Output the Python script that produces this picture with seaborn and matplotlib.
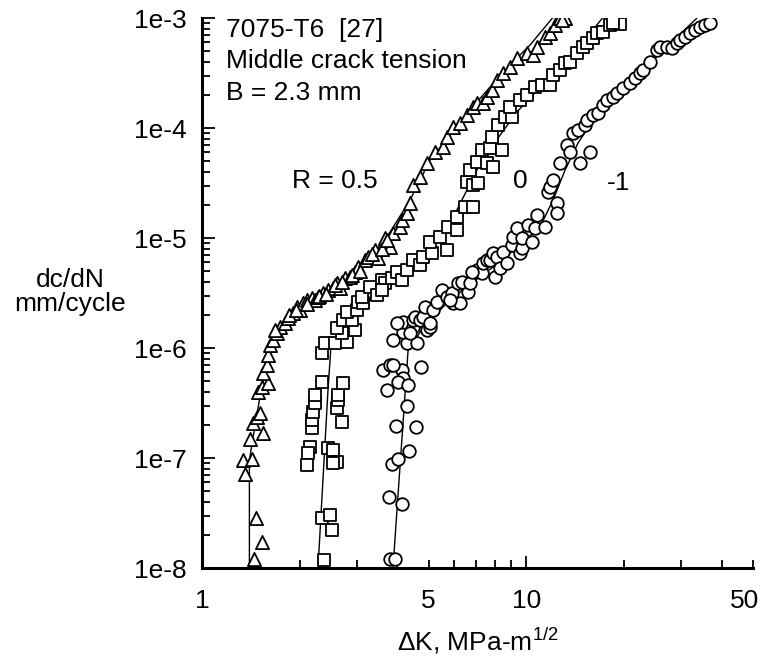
import numpy as np
import pandas as pd
import matplotlib
matplotlib.use("Agg")
import matplotlib.pyplot as plt
import matplotlib.ticker as mticker
import matplotlib.transforms as mtransforms
import seaborn as sns

# ---------------- data ----------------
# R = 0.5 (triangles)
dk_r05 = [1.447, 1.531, 1.467, 1.357, 1.338, 1.426, 1.406, 1.542, 1.436, 1.478,
          1.51, 1.488, 1.531, 1.598, 1.542, 1.586, 1.598, 1.62, 1.655, 1.703,
          1.74, 1.803, 1.842, 1.908, 1.963, 2.005, 2.048, 2.108, 2.184, 2.23,
          2.279, 2.361, 2.446, 2.535, 2.608, 2.66, 2.76, 2.86, 2.964, 3.027,
          3.18, 3.25, 3.416, 3.49, 3.667, 3.80, 3.88, 4.08, 4.14, 4.29,
          4.38, 4.47, 4.70, 4.94, 5.23, 5.53, 5.69, 5.94, 6.25, 6.56,
          6.85, 7.05, 7.35, 7.56, 7.84, 8.12, 8.48, 8.91, 9.36, 10.05,
          10.49, 10.79, 11.42, 11.83, 12.26, 12.70, 13.17, 12.89,
          1.68, 1.85, 1.95, 2.10, 2.30, 2.42, 2.58, 2.70, 2.90, 3.08,
          3.35, 3.58, 3.72]
rate_r05 = [1.21e-8, 1.72e-8, 2.85e-8, 7.16e-8, 9.6e-8, 9.8e-8, 1.49e-7, 1.69e-7, 2.08e-7, 2.36e-7,
            2.56e-7, 3.98e-7, 4.42e-7, 4.8e-7, 5.93e-7, 7.0e-7, 8.6e-7, 1.06e-6, 1.18e-6, 1.37e-6,
            1.55e-6, 1.69e-6, 1.87e-6, 2.08e-6, 2.36e-6, 2.22e-6, 2.56e-6, 2.73e-6, 2.85e-6, 2.73e-6,
            2.91e-6, 3.16e-6, 3.37e-6, 3.51e-6, 3.9e-6, 3.51e-6, 4.33e-6, 4.42e-6, 4.91e-6, 5.45e-6,
            6.31e-6, 6.72e-6, 7.78e-6, 6.58e-6, 1.0e-5, 8.28e-6, 1.11e-5, 1.26e-5, 1.46e-5, 1.69e-5,
            2.08e-5, 3.03e-5, 3.59e-5, 4.81e-5, 6.05e-5, 6.72e-5, 8.28e-5, 1.02e-4, 1.11e-4, 1.31e-4,
            1.55e-4, 1.69e-4, 1.69e-4, 1.91e-4, 2.22e-4, 2.73e-4, 3.16e-4, 3.59e-4, 4.33e-4, 4.8e-4,
            4.61e-4, 5.45e-4, 6.72e-4, 7.3e-4, 8.63e-4, 1.0e-3, 1.0e-3, 9.6e-4,
            1.45e-6, 2.0e-6, 2.2e-6, 2.5e-6, 3.0e-6, 3.1e-6, 3.7e-6, 4.0e-6, 4.6e-6, 5.0e-6,
            7.2e-6, 8.0e-6, 9.5e-6]

# R = 0 (squares)
dk_r0 = [2.378, 2.344, 2.48, 2.517, 2.15, 2.123, 2.108, 2.446, 2.535, 2.608,
         2.535, 2.184, 2.184, 2.70, 2.199, 2.608, 2.23, 2.627, 2.23, 2.627,
         2.344, 2.722,
         2.344, 2.395, 2.571, 2.80, 2.70, 2.608, 2.964, 2.722, 2.90, 2.80,
         3.006, 3.027, 3.136, 3.115, 3.30, 3.465, 3.59, 3.667, 3.59, 3.854,
         3.995, 4.14, 4.29, 4.47, 4.70, 4.80, 5.12, 5.05, 5.42, 5.69,
         5.74, 6.11, 6.11, 6.47, 6.85,
         6.56, 6.85, 7.10, 6.71, 7.05, 7.56, 7.30, 7.90, 7.73, 8.41,
         7.84, 8.18, 8.60, 9.03, 8.91, 9.56, 10.05, 10.64, 11.18, 11.83,
         12.09, 12.70, 13.17, 13.64, 14.33, 14.96, 15.39, 16.06, 16.52, 17.24,
         18.1, 19.45, 18.51]
rate_r0 = [1.18e-8, 2.85e-8, 3.03e-8, 2.21e-8, 1.26e-7, 1.11e-7, 8.63e-8, 1.23e-7, 1.18e-7, 9.2e-8,
           9.0e-8, 1.87e-7, 2.21e-7, 2.12e-7, 2.62e-7, 2.85e-7, 3.16e-7, 3.37e-7, 3.74e-7, 3.74e-7,
           4.91e-7, 4.8e-7,
           9.0e-7, 1.11e-6, 1.11e-6, 1.13e-6, 1.37e-6, 1.52e-6, 1.46e-6, 1.80e-6, 1.80e-6, 2.12e-6,
           2.22e-6, 2.62e-6, 2.56e-6, 2.91e-6, 3.59e-6, 3.03e-6, 4.15e-6, 3.9e-6, 3.37e-6, 4.33e-6,
           4.91e-6, 4.15e-6, 5.12e-6, 6.31e-6, 5.69e-6, 6.72e-6, 7.3e-6, 9.2e-6, 1.02e-5, 7.78e-6,
           1.26e-5, 1.18e-5, 1.55e-5, 1.91e-5, 1.91e-5,
           3.23e-5, 3.03e-5, 3.16e-5, 4.15e-5, 4.91e-5, 4.81e-5, 6.31e-5, 4.42e-5, 6.58e-5, 6.31e-5,
           8.28e-5, 1.06e-4, 1.26e-4, 1.26e-4, 1.55e-4, 1.80e-4, 2.0e-4, 2.36e-4, 2.46e-4, 2.46e-4,
           3.03e-4, 3.37e-4, 3.9e-4, 3.98e-4, 4.8e-4, 5.45e-4, 5.93e-4, 6.58e-4, 7.3e-4, 7.46e-4,
           8.63e-4, 8.82e-4, 9.0e-4]

# R = -1 (circles)
dk_rm1 = [3.80, 3.94, 3.77, 4.14, 3.854, 4.02, 4.35, 3.965, 4.57, 4.29,
          3.615, 3.80, 4.14, 4.17, 4.02, 4.32, 3.72, 4.74, 3.88,
          3.88, 4.29, 4.60, 4.17, 4.17, 3.995, 4.47, 4.47, 4.38, 4.54,
          4.70, 4.80, 4.94, 5.05, 5.05, 4.87, 5.16, 5.31, 5.50, 5.69,
          5.90, 5.94, 6.25, 6.16, 6.56, 6.61, 6.85, 7.05, 7.30, 7.35,
          7.56, 7.73, 7.90, 8.01, 8.12, 5.82, 6.34, 6.71, 6.80, 8.30,
          8.48, 8.72, 9.03, 9.10, 9.36, 9.56, 9.70, 9.70, 10.12, 10.41,
          10.64, 10.79, 11.42, 12.43, 12.43,
          11.67, 11.83, 12.09, 12.70, 13.35, 13.64, 14.64, 15.72, 13.93, 14.43,
          15.17, 15.39, 16.06, 16.64, 17.24, 17.74, 18.51, 19.05, 19.87, 20.88,
          21.64, 22.4, 22.9, 24.06, 25.3, 25.8, 27.2, 28.1, 29.16, 29.8,
          30.9, 32.0, 33.1, 34.3, 35.6, 36.8]
rate_rm1 = [1.21e-8, 1.21e-8, 4.42e-8, 3.82e-8, 8.82e-8, 9.8e-8, 1.16e-7, 1.95e-7, 1.91e-7, 2.97e-7,
            6.31e-7, 7.0e-7, 6.31e-7, 5.34e-7, 4.91e-7, 4.61e-7, 4.15e-7, 6.72e-7, 7.0e-7,
            1.18e-6, 1.11e-6, 1.11e-6, 1.40e-6, 1.72e-6, 1.69e-6, 1.55e-6, 1.80e-6, 1.37e-6, 1.91e-6,
            1.80e-6, 1.91e-6, 1.46e-6, 1.55e-6, 1.69e-6, 2.36e-6, 2.22e-6, 2.62e-6, 3.37e-6, 2.91e-6,
            3.16e-6, 2.56e-6, 2.56e-6, 3.9e-6, 3.9e-6, 3.23e-6, 4.81e-6, 5.12e-6, 4.81e-6, 5.93e-6,
            6.31e-6, 6.31e-6, 7.3e-6, 4.42e-6, 6.72e-6, 2.73e-6, 3.98e-6, 3.9e-6, 4.91e-6, 5.34e-6,
            7.46e-6, 5.93e-6, 8.63e-6, 1.02e-5, 1.23e-5, 7.3e-6, 8.1e-6, 1.0e-5, 1.31e-5, 9.2e-6,
            1.23e-5, 1.62e-5, 1.26e-5, 2.08e-5, 1.69e-5,
            2.62e-5, 2.91e-5, 3.37e-5, 4.81e-5, 7.0e-5, 6.05e-5, 4.81e-5, 6.05e-5, 9.0e-5, 9.6e-5,
            1.06e-4, 1.18e-4, 1.31e-4, 1.37e-4, 1.62e-4, 1.80e-4, 1.91e-4, 2.08e-4, 2.31e-4, 2.56e-4,
            2.85e-4, 3.16e-4, 3.37e-4, 3.98e-4, 5.12e-4, 5.45e-4, 5.45e-4, 5.34e-4, 5.93e-4, 6.31e-4,
            6.72e-4, 7.3e-4, 7.78e-4, 8.28e-4, 8.63e-4, 9.0e-4]

# fitted curves (drawn as thin lines)
fit_r05_dk = [1.40, 1.40, 1.467, 1.531, 1.598, 1.68, 1.87, 2.15, 2.48, 2.86,
              3.30, 3.80, 4.38, 5.05, 5.82, 6.71, 7.73, 8.91, 10.27, 12.26]
fit_r05_rate = [1e-8, 9.6e-8, 2.21e-7, 4.61e-7, 9.6e-7, 1.31e-6, 1.87e-6, 2.57e-6, 3.37e-6, 4.42e-6,
                6.58e-6, 1.13e-5, 2.21e-5, 5.12e-5, 8.63e-5, 1.46e-4, 2.36e-4, 3.74e-4, 5.69e-4, 1.065e-3]
fit_r0_dk = [2.279, 2.446, 2.50, 2.86, 3.30, 3.94, 4.70, 5.42, 6.11, 7.30, 9.36, 11.83, 14.96, 17.48]
fit_r0_rate = [1e-8, 4.15e-7, 1.06e-6, 1.62e-6, 2.73e-6, 4.33e-6, 6.31e-6, 9.6e-6, 1.8e-5,
               5.12e-5, 1.40e-4, 2.91e-4, 6.05e-4, 1.065e-3]
fit_rm1_dk = [3.88, 4.32, 4.87, 5.82, 6.95, 8.30, 9.91, 11.02, 12.09, 13.17, 14.43, 16.88,
              20.44, 24.06, 29.16, 33.6]
fit_rm1_rate = [1e-8, 9.6e-7, 1.62e-6, 2.73e-6, 4.15e-6, 6.05e-6, 9.6e-6, 1.26e-5, 2.21e-5,
                4.15e-5, 7.3e-5, 1.46e-4, 2.56e-4, 3.9e-4, 6.72e-4, 1e-3]

x_major = [1, 10]
x_major_labels = ["1", "10"]
x_minor = [2, 3, 4, 5, 6, 7, 8, 9, 20, 30, 40, 50]
x_minor_labels = {5: "5", 50: "50"}
y_major = [1e-8, 1e-7, 1e-6, 1e-5, 1e-4, 1e-3]
y_major_labels = ["1e-8", "1e-7", "1e-6", "1e-5", "1e-4", "1e-3"]

info_lines = ["7075-T6  [27]", "Middle crack tension", "B = 2.3 mm"]
r_labels = ["R = 0.5", "0", "-1"]

# ---------------- styling ----------------
sns.set_theme(style="white")
plt.rcParams["font.family"] = ["Liberation Sans", "DejaVu Sans"]
plt.rcParams["mathtext.fontset"] = "custom"
plt.rcParams["mathtext.rm"] = "Liberation Sans"
plt.rcParams["mathtext.it"] = "Liberation Sans"
plt.rcParams["text.color"] = "black"
plt.rcParams["axes.labelcolor"] = "black"
plt.rcParams["xtick.color"] = "black"
plt.rcParams["ytick.color"] = "black"
FS = 19

fig = plt.figure(figsize=(7.65, 6.6), dpi=100)
ax = fig.add_axes([202 / 765, 92 / 660, 551 / 765, 550 / 660])
ax.set_xscale("log")
ax.set_yscale("log")

line_kw = dict(color="black", linewidth=1.0, sort=False, estimator=None, ax=ax, legend=False)
sns.lineplot(x=fit_r05_dk, y=fit_r05_rate, **line_kw)
sns.lineplot(x=fit_r0_dk, y=fit_r0_rate, **line_kw)
sns.lineplot(x=fit_rm1_dk, y=fit_rm1_rate, **line_kw)

mk_kw = dict(facecolor="white", edgecolor="black", linewidth=1.3, ax=ax, legend=False, zorder=3)
sns.scatterplot(x=dk_r05, y=rate_r05, marker="^", s=90, **mk_kw)
sns.scatterplot(x=dk_r0, y=rate_r0, marker="s", s=70, **mk_kw)
sns.scatterplot(x=dk_rm1, y=rate_rm1, marker="o", s=82, **mk_kw)

ax.set_xlim(1, 50)
ax.set_ylim(1e-8, 1e-3)

for side in ["top", "right"]:
    ax.spines[side].set_visible(False)
for side in ["left", "bottom"]:
    ax.spines[side].set_linewidth(2.2)
    ax.spines[side].set_color("black")

ax.xaxis.set_major_locator(mticker.FixedLocator(x_major))
ax.xaxis.set_major_formatter(mticker.FixedFormatter(x_major_labels))
ax.xaxis.set_minor_locator(mticker.FixedLocator(x_minor))
ax.xaxis.set_minor_formatter(mticker.FuncFormatter(lambda v, p: x_minor_labels.get(int(round(v)), "")))
ax.yaxis.set_major_locator(mticker.FixedLocator(y_major))
ax.yaxis.set_major_formatter(mticker.FixedFormatter(y_major_labels))
ax.yaxis.set_minor_locator(mticker.LogLocator(base=10, subs=np.arange(2, 10), numticks=20))
ax.yaxis.set_minor_formatter(mticker.NullFormatter())

ax.tick_params(axis="both", which="both", direction="in", colors="black",
               labelsize=FS, width=1.3, bottom=True, left=True, top=False, right=False)
ax.tick_params(axis="y", which="major", length=9, pad=11)
ax.tick_params(axis="y", which="minor", length=5.5)
ax.tick_params(axis="x", which="major", length=9, pad=15)
ax.tick_params(axis="x", which="minor", length=6, pad=15, labelsize=FS)

ax.set_xlabel("")
ax.set_ylabel("")

for txt, yb in zip(info_lines, [0.9655, 0.909, 0.851]):
    ax.text(0.0436, yb, txt, transform=ax.transAxes, fontsize=FS, va="baseline", ha="left")

for txt, xa, ya in zip(r_labels, [0.1633, 0.5644, 0.735], [0.691, 0.691, 0.687]):
    ax.text(xa, ya, txt, transform=ax.transAxes, fontsize=FS, va="baseline", ha="left")

fig.text(70 / 765, 1 - 292 / 660, "dc/dN\nmm/cycle", fontsize=FS, ha="center", va="center",
         multialignment="center", linespacing=1.05)
fig.text(478 / 765, 1 - 650 / 660, r"ΔK, MPa-m$^{1/2}$", fontsize=FS, ha="center", va="baseline")

# nudge the last x tick label ("50") left so it stays inside the figure, as in the reference
fig.canvas.draw()
shift = mtransforms.ScaledTranslation(-6 / 72, 0, fig.dpi_scale_trans)
for tick in ax.xaxis.get_minor_ticks():
    if abs(tick.get_loc() - 50) < 1e-6:
        tick.label1.set_transform(tick.label1.get_transform() + shift)

fig.savefig("out.png", dpi=100, facecolor="white")
